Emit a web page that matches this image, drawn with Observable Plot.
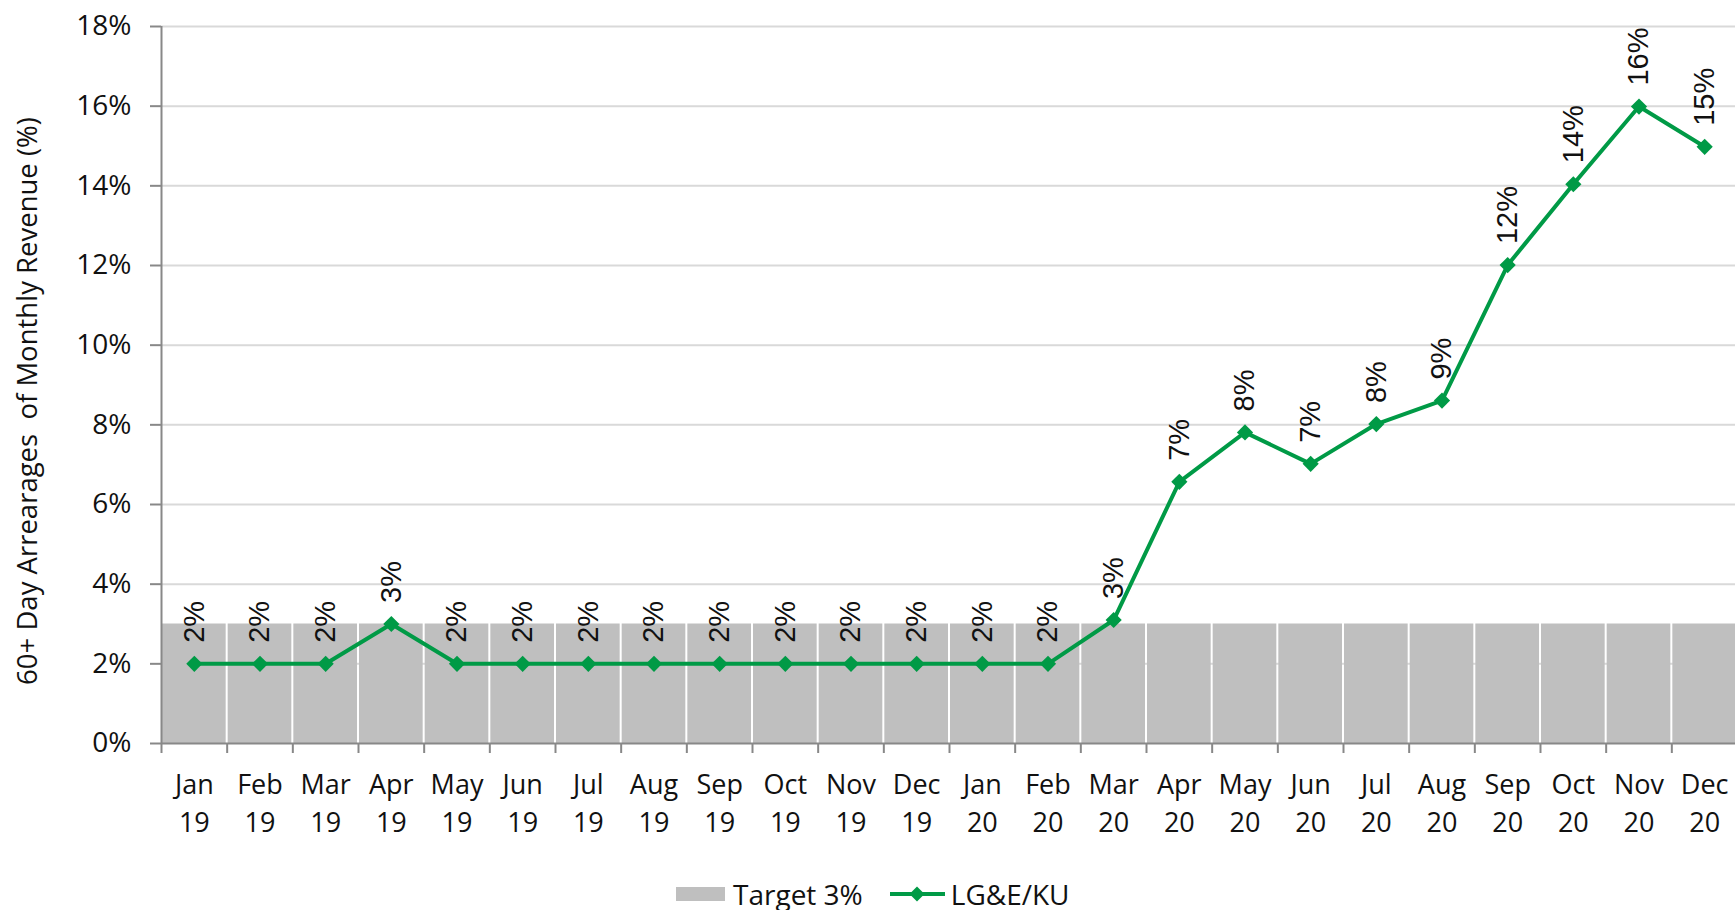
<!DOCTYPE html>
<html>
<head>
<meta charset="utf-8">
<script src="https://cdn.jsdelivr.net/npm/d3@7"></script>
<script src="https://cdn.jsdelivr.net/npm/@observablehq/plot@0.6"></script>
<style>
  html, body { margin: 0; padding: 0; background: #fff; overflow: hidden; }
  body { width: 1735px; height: 910px; position: relative; font-family: "Open Sans", sans-serif; }
  #legend { position: absolute; left: 676px; top: 877px; height: 34px; display: flex; align-items: center;
            font-family: "Open Sans", sans-serif; font-size: 28px; color: #111; white-space: nowrap; }
  .sw { display: inline-block; width: 49px; height: 14px; background: #bfbfbf; margin-right: 8px; }
</style>
</head>
<body>
<div id="chart"></div>
<div id="legend">
  <span class="sw"></span><span>Target 3%</span>
  <svg width="57" height="20" style="margin-left:26px;margin-right:5px">
    <line x1="1" y1="10" x2="56" y2="10" stroke="#009a46" stroke-width="4"/>
    <path d="M28,2.5 L35.5,10 L28,17.5 L20.5,10 Z" fill="#009a46"/>
  </svg>
  <span>LG&amp;E/KU</span>
</div>
<script>
const months = ["Jan","Feb","Mar","Apr","May","Jun","Jul","Aug","Sep","Oct","Nov","Dec",
                "Jan","Feb","Mar","Apr","May","Jun","Jul","Aug","Sep","Oct","Nov","Dec"];
const years = ["19","19","19","19","19","19","19","19","19","19","19","19",
               "20","20","20","20","20","20","20","20","20","20","20","20"];
const target = [3,3,3,3,3,3,3,3,3,3,3,3,3,3,3,3,3,3,3,3,3,3,3,3];
const lgeku = [2,2,2,3,2,2,2,2,2,2,2,2,2,2,3.1,6.57,7.81,7.02,8.02,8.61,12.01,14.04,15.99,14.98];
const labels = ["2%","2%","2%","3%","2%","2%","2%","2%","2%","2%","2%","2%","2%","2%",
                "3%","7%","8%","7%","8%","9%","12%","14%","16%","15%"];
const yTicks = [0,2,4,6,8,10,12,14,16,18];

const rows = months.map((m, i) => ({i, m, yr: years[i], t: target[i], v: lgeku[i], lab: labels[i]}));
const edges = d3.range(0, months.length + 1);

const green = "#009a46";
const chart = Plot.plot({
  width: 1735,
  height: 860,
  marginTop: 26,
  marginBottom: 117,
  marginLeft: 161,
  marginRight: 0,
  style: {fontFamily: "Open Sans, sans-serif", fontSize: "27px", color: "#111", background: "#fff", overflow: "visible"},
  x: {type: "linear", domain: [0, months.length], range: [161, 1737]},
  y: {domain: [0, 18], range: [743, 26]},
  marks: [
    Plot.gridY(yTicks.filter(d => d > 0), {stroke: "#d9d9d9", strokeOpacity: 1, strokeWidth: 2}),
    Plot.rectY(rows, {x1: d => d.i, x2: d => d.i + 1, y1: 0, y2: "t", fill: "#bfbfbf", insetLeft: 1, insetRight: 1}),
    Plot.ruleX([0], {stroke: "#888", strokeWidth: 2}),
    Plot.ruleY([0], {stroke: "#888", strokeWidth: 2}),
    Plot.axisY({ticks: yTicks, tickFormat: d => d + "%", tickSize: 11, tickPadding: 19, stroke: "#888", strokeWidth: 2,
                fontSize: 28, fill: "#111", label: null}),
    Plot.axisX({ticks: edges, tickFormat: () => "", tickSize: 10, stroke: "#888", strokeWidth: 2, label: null}),
    Plot.text(rows, {x: d => d.i + 0.5, y: 0, text: d => d.m + "\n" + d.yr, dy: 57, lineHeight: 1.44,
                     fontSize: 27, fill: "#111", lineAnchor: "middle"}),
    Plot.line(rows, {x: d => d.i + 0.5, y: "v", stroke: green, strokeWidth: 4}),
    Plot.dot(rows, {x: d => d.i + 0.5, y: "v", symbol: "diamond2", r: 7.3, fill: green, stroke: "none"}),
    Plot.text(rows, {x: d => d.i + 0.5, y: "v", text: "lab", rotate: -90, textAnchor: "start", dy: -21,
                     fontSize: 29, fontFamily: "Liberation Sans Narrow, Arial Narrow, Liberation Sans, sans-serif", fill: "#111"}),
    Plot.text(["60+ Day Arrearages\u00a0 of Monthly Revenue (%)"], {frameAnchor: "left", dx: -133, dy: 16, rotate: -90,
                     fontSize: 27.5, fill: "#111", textAnchor: "middle"})
  ]
});
document.getElementById("chart").appendChild(chart);
</script>
</body>
</html>
